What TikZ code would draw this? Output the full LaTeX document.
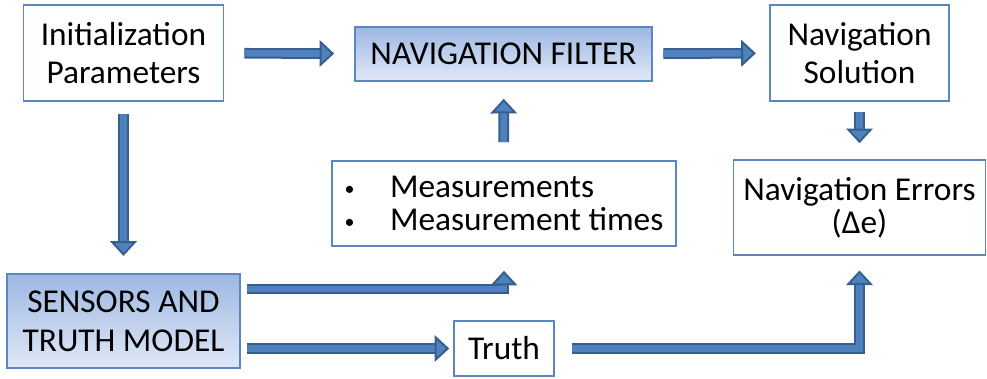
\documentclass[tikz,border=0pt]{standalone}
\usepackage{fontspec}
\setmainfont{Carlito}
\usetikzlibrary{arrows.meta}
\definecolor{boxline}{HTML}{5B86C0}
\definecolor{flowedge}{HTML}{365F91}
\definecolor{flowfill}{HTML}{4F81BD}
\definecolor{shadetop}{HTML}{9DB8E3}
\definecolor{shadebottom}{HTML}{E0E8F6}
\newcommand{\measdot}{\makebox[34pt][l]{\raisebox{1.5pt}{\fontsize{15}{15}\selectfont\textbullet}}}

\begin{document}
\begin{tikzpicture}[x=0.75pt,y=-0.75pt,
	box/.style={draw=boxline, line width=1.2pt, fill=white, inner sep=0pt, align=center, font=\fontsize{25}{29}\selectfont},
	shaded/.style={box, top color=shadetop, bottom color=shadebottom},
	flow/.style={draw=flowedge, line width=1.5pt, double=flowfill, double distance=5pt, -{Triangle[length=11pt,width=20pt,fill=flowfill]}}]
	\useasboundingbox (0,0) rectangle (987,378);
	\node[box, minimum width=150pt, minimum height=72pt] (init) at (123.5,53) {Initialization\\Parameters};
	\node[shaded, minimum width=222.75pt, minimum height=40.5pt] (filter) at (503.5,54) {NAVIGATION FILTER};
	\node[box, minimum width=134.25pt, minimum height=72pt] (navsol) at (859.5,53) {Navigation\\Solution};
	\node[box, minimum width=258pt, minimum height=63.75pt, align=left, font=\fontsize{25}{25}\selectfont] (meas) at (504,203.5)
		{\measdot Measurements\\\measdot Measurement times};
	\node[box, minimum width=189pt, minimum height=71.25pt, font=\fontsize{25}{25}\selectfont] (naverr) at (859.5,207.5) {Navigation Errors\\(Δe)};
	\node[shaded, minimum width=174.75pt, minimum height=70.5pt] (sensors) at (123.5,321) {SENSORS AND\\TRUTH MODEL};
	\node[box, minimum width=75pt, minimum height=41.25pt] (truth) at (504,348.5) {Truth};
	\coordinate (upper) at (0,289);

	\draw[flow, shorten <=15pt, shorten >=15pt] (init) -- (filter);
	\draw[flow, shorten <=8pt, shorten >=10pt] (filter) -- (navsol);
	\draw[flow, shorten <=13.5pt, shorten >=12.75pt] (meas) -- (filter);
	\draw[flow, shorten <=8pt, shorten >=12pt] (navsol) -- (naverr);
	\draw[flow, shorten <=9pt, shorten >=13pt] (init) -- (sensors);
	\draw[flow, shorten <=5pt, shorten >=18pt] (sensors.east |- upper) -| (meas.south);
	\draw[flow, shorten <=5pt, shorten >=3pt] (sensors.east |- truth.west) -- (truth.west);
	\draw[flow, shorten <=12.75pt, shorten >=11pt] (truth.east) -| (naverr.south);
\end{tikzpicture}
\end{document}
